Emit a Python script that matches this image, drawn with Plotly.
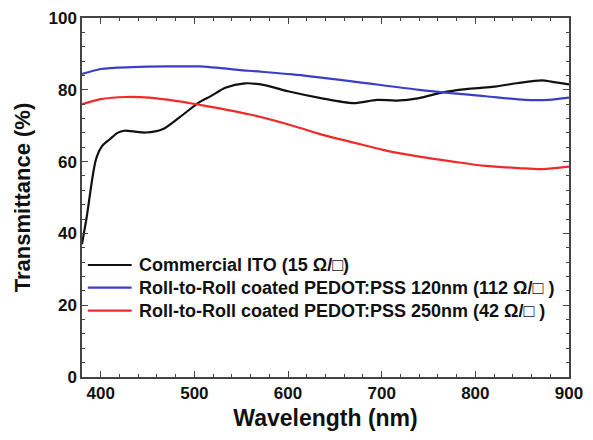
import plotly.graph_objects as go

# Commercial ITO
ito_wl = [380, 385, 395, 402, 410, 418, 425, 435, 448, 466, 484, 505, 518, 533, 554, 575, 600, 635, 670, 695, 716, 740, 765, 790, 818, 846, 871, 881, 900]
ito_t = [37.0, 44.5, 60.7, 64.5, 66.3, 68.0, 68.6, 68.4, 68.1, 69.0, 72.3, 76.5, 78.3, 80.6, 81.8, 81.3, 79.6, 77.7, 76.3, 77.2, 77.0, 77.7, 79.3, 80.2, 80.8, 81.9, 82.6, 82.3, 81.5]

# PEDOT:PSS 120 nm
p120_wl = [380, 400, 434, 470, 505, 558, 605, 670, 740, 811, 853, 878, 900]
p120_t = [84.4, 85.8, 86.3, 86.5, 86.5, 85.3, 84.3, 82.3, 80.0, 78.2, 77.2, 77.2, 77.8]

# PEDOT:PSS 250 nm
p250_wl = [380, 400, 427, 452, 480, 512, 558, 605, 635, 670, 706, 740, 776, 811, 846, 871, 900]
p250_t = [76.0, 77.4, 78.0, 77.8, 76.9, 75.5, 73.2, 70.0, 67.6, 65.3, 63.0, 61.4, 60.0, 58.8, 58.2, 57.9, 58.6]

names = [
    "Commercial ITO (15 Ω/□)",
    "Roll-to-Roll coated PEDOT:PSS 120nm (112 Ω/□ )",
    "Roll-to-Roll coated PEDOT:PSS 250nm (42 Ω/□ )",
]
colors = ["#111111", "#3a3fc8", "#f02a2a"]

fig = go.Figure()
for wl, t, n, c in zip([ito_wl, p120_wl, p250_wl], [ito_t, p120_t, p250_t], names, colors):
    fig.add_trace(go.Scatter(x=wl, y=t, mode="lines", name=n, showlegend=False,
                             line=dict(color=c, width=2.2, shape="spline", smoothing=0.8)))

# manual legend (line samples + labels, in paper coordinates)
leg_y = [0.312, 0.249, 0.185]
for n, c, ly in zip(names, colors, leg_y):
    fig.add_shape(type="line", xref="paper", yref="paper", x0=0.012, x1=0.102, y0=ly, y1=ly,
                  line=dict(color=c, width=2.2))
    fig.add_annotation(xref="paper", yref="paper", x=0.112, y=ly, xanchor="left", yanchor="middle",
                       text="<b>" + n + "</b>", showarrow=False,
                       font=dict(size=18, color="#111111"))

axis_common = dict(
    showline=True, linecolor="#444444", linewidth=1.5, mirror="ticks",
    ticks="inside", ticklen=6, tickwidth=1.3, tickcolor="#444444",
    showgrid=False, zeroline=False, automargin=False, ticklabeloverflow="allow",
    tickfont=dict(family="Liberation Sans, Arial", size=17, color="#111111", weight="bold"),
)

fig.update_layout(
    width=577, height=424,
    margin=dict(l=74, r=16, t=10, b=55),
    paper_bgcolor="white", plot_bgcolor="white",
    font=dict(family="Liberation Sans, Arial", color="#111111"),
    xaxis=dict(range=[380, 900], tickvals=[400, 500, 600, 700, 800, 900],
               minor=dict(dtick=20, tick0=400, ticks="inside", ticklen=3, tickcolor="#444444"),
               title=dict(text="<b>Wavelength (nm)</b>", font=dict(size=23), standoff=8),
               **axis_common),
    yaxis=dict(range=[0, 100], tickvals=[0, 20, 40, 60, 80, 100],
               minor=dict(dtick=4, tick0=0, ticks="inside", ticklen=3, tickcolor="#444444"),
               title=dict(text="<b>Transmittance (%)</b>", font=dict(size=22), standoff=12),
               **axis_common),
    showlegend=False,
)

fig.write_html("out.html")
